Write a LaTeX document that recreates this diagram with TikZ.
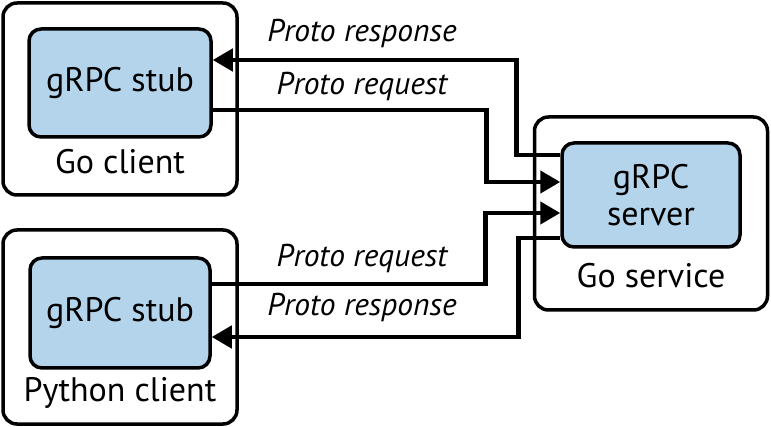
\documentclass[tikz,border=0pt]{standalone}
\usepackage{fontspec}
\setmainfont{PT Sans}
\usetikzlibrary{arrows.meta}
\definecolor{stubblue}{HTML}{B3D4EA}
\begin{document}
\begin{tikzpicture}[x=1pt,y=-1pt,
  outerbox/.style={draw=black,line width=3.5pt,rounded corners=14pt,fill=white,inner sep=0pt},
  innerbox/.style={draw=black,line width=3.5pt,rounded corners=12pt,fill=stubblue,inner sep=0pt,font=\fontsize{34}{37}\selectfont,align=center},
  boxlabel/.style={font=\fontsize{34}{37}\selectfont,inner sep=0pt},
  msglabel/.style={font=\fontsize{31.5}{33}\selectfont\itshape,inner sep=0pt},
  conn/.style={line width=4.5pt},
  arr/.style={conn,-{Triangle[length=20pt,width=22pt]}}]
\useasboundingbox (0,0) rectangle (771,427);
% outer boxes
\node[outerbox,minimum width=234pt,minimum height=192pt] (goc) at (120,99) {};
\node[outerbox,minimum width=234pt,minimum height=194pt] (pyc) at (120,327) {};
\node[outerbox,minimum width=233pt,minimum height=193pt] (gos) at (651,213.5) {};
% inner boxes
\node[innerbox,minimum width=182pt,minimum height=108pt] (gostub) at (120,83) {gRPC stub};
\node[innerbox,minimum width=180pt,minimum height=110pt] (pystub) at (120,313) {gRPC stub};
\node[innerbox,minimum width=178pt,minimum height=104pt] (srv) at (651,195) {gRPC\\server};
% box labels
\node[boxlabel] (goclab) at (120,162) {Go client};
\node[boxlabel] (pyclab) at (120,393) {Python client};
\node[boxlabel] (goslab) at (651,276) {Go service};
% connectors
\draw[arr] ([yshift=40pt]srv.west) -- ++(-44,0) |- ([yshift=23pt]gostub.east);
\draw[arr] ([yshift=-27pt]gostub.east) -| ([xshift=-74pt,yshift=13pt]srv.west) -- ([yshift=13pt]srv.west);
\draw[arr] ([yshift=29pt]pystub.east) -| ([xshift=-75pt,yshift=-18pt]srv.west) -- ([yshift=-18pt]srv.west);
\draw[arr] ([yshift=-43pt]srv.west) -- ++(-42,0) |- ([yshift=-24pt]pystub.east);
% message labels
\node[msglabel] (m1) at (362,34) {Proto response};
\node[msglabel] (m2) at (362,87) {Proto request};
\node[msglabel] (m3) at (362,259) {Proto request};
\node[msglabel] (m4) at (362,308) {Proto response};
\end{tikzpicture}
\end{document}
